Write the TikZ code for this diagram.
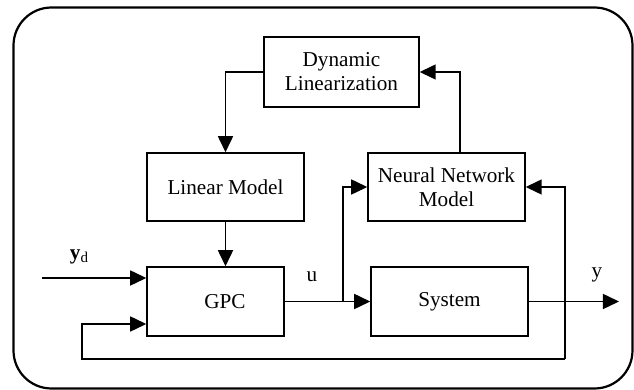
\documentclass[tikz,border=0pt]{standalone}
\usepackage{fontspec}
\setmainfont{Liberation Serif}
\usetikzlibrary{arrows.meta}
\begin{document}
\begin{tikzpicture}[x=0.5pt,y=-0.5pt,
  blk/.style={draw,line width=0.75pt,inner sep=0pt,align=center,font=\fontsize{10.6}{12}\selectfont},
  conn/.style={line width=0.75pt},
  arr/.style={conn,-{Triangle[length=8pt,width=7.5pt]}},
  lbl/.style={font=\fontsize{10.6}{12}\selectfont,inner sep=0pt}]
\useasboundingbox (0,0) rectangle (634,390);
\draw[line width=1.1pt,rounded corners=19pt] (13.5,7.5) rectangle (632.5,388.5);
\node[blk,minimum width=77.5pt,minimum height=35pt] (dl) at (341.5,72) {Dynamic\\Linearization};
\node[blk,minimum width=78.5pt,minimum height=34pt] (lm) at (225.5,187) {Linear Model};
\node[blk,minimum width=78.5pt,minimum height=34pt] (nn) at (446.5,187) {Neural Network\\Model};
\node[blk,minimum width=68.5pt,minimum height=34.5pt,label={[lbl,xshift=4.75pt]center:GPC}] (gpc) at (215.5,301.5) {};
\node[blk,minimum width=78.5pt,minimum height=34.5pt] (sys) at (449.5,301.5) {System};
\coordinate (ydin) at (42.5,278);
\coordinate (j) at (343,301.5);
\coordinate (yout) at (619,301.5);
\coordinate (fbR) at (565,359);
\coordinate (fbL) at (82,359);
\coordinate (fbin) at (82,324);
\draw[arr] (dl.west) -| (lm.north);
\draw[arr] (lm.south) -- (lm.south |- gpc.north);
\draw[arr] (ydin) -- (gpc.west |- ydin);
\draw[arr] (gpc.east) -- (sys.west);
\draw[arr] (j) |- (nn.west);
\draw[arr] (sys.east) -- (yout);
\draw[arr] (fbR) -- (fbL) -- (fbin) -- (gpc.west |- fbin);
\draw[arr] (fbR) |- (nn.east);
\draw[arr] ([xshift=6.75pt]nn.north) |- (dl.east);
\node[lbl] (ydl) at (79,257) {\textbf{y}{\fontsize{7.5}{8}\selectfont\raisebox{-1.5pt}{d}}};
\node[lbl] (ul) at (312,277) {u};
\node[lbl] (yl) at (597,275) {y};
\end{tikzpicture}
\end{document}
